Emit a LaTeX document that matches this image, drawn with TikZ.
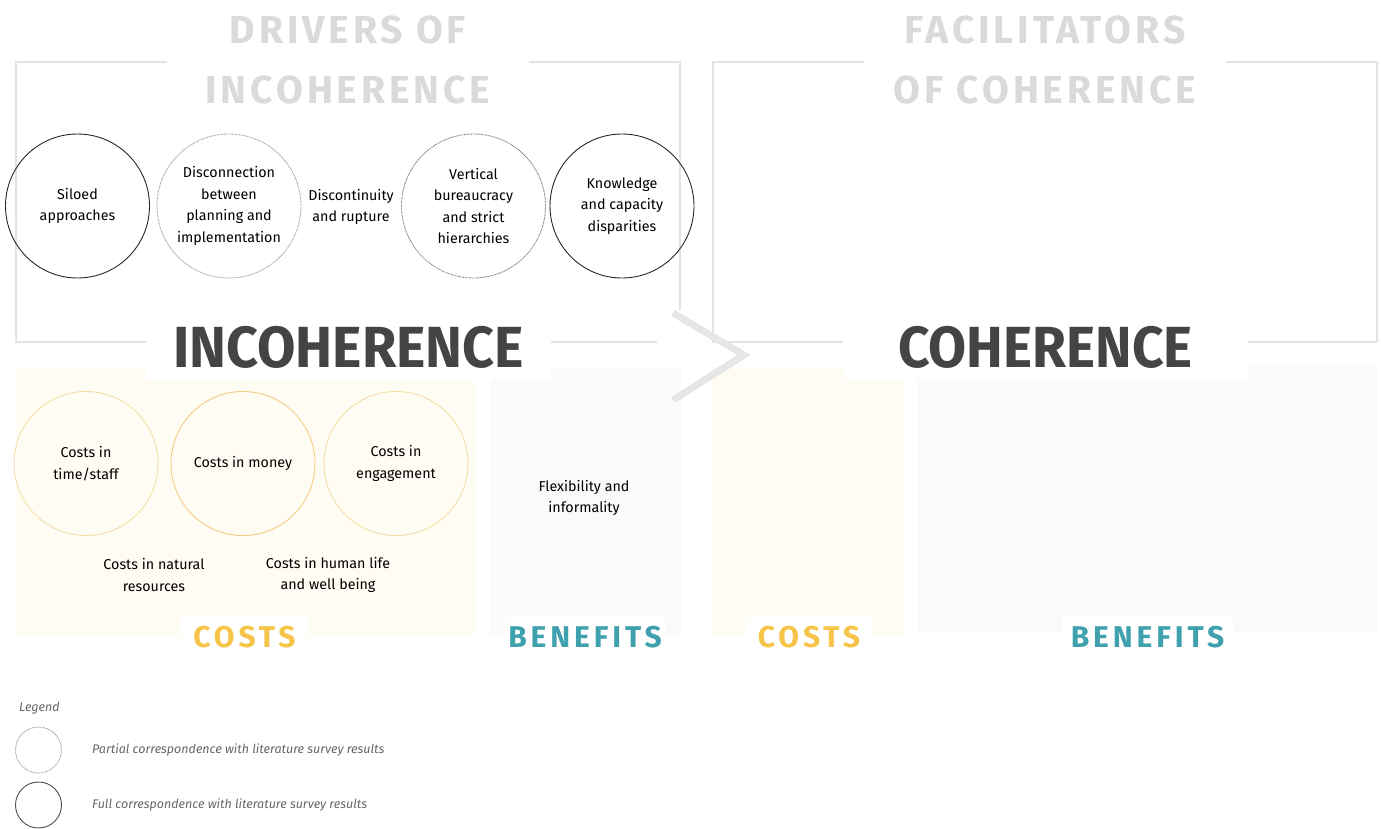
\documentclass[tikz,border=0pt]{standalone}
\usepackage{fontspec}
\setmainfont{Fira Sans}
\usetikzlibrary{positioning}
\definecolor{framegray}{HTML}{E3E3E3}
\definecolor{titlegray}{HTML}{DADADA}
\definecolor{darktext}{HTML}{444444}
\definecolor{costyellow}{HTML}{F6C448}
\definecolor{benefitteal}{HTML}{3FA1AD}
\definecolor{creamfill}{HTML}{FFFCF3}
\definecolor{bluefill}{HTML}{F8FAFC}
\definecolor{costring}{HTML}{F3DFA6}
\tikzstyle{full} = [draw=black!85, line width=0.9pt, circle, minimum size=144pt, inner sep=0pt, align=center, font=\fontsize{14.3}{21.5}\selectfont]
\tikzstyle{partial} = [full, draw=black!40, dash pattern=on 0.7pt off 0.7pt]
\tikzstyle{cost} = [full, draw=costring]
\tikzstyle{plain} = [align=center, inner sep=0pt, font=\fontsize{14.3}{21.5}\selectfont]
\tikzstyle{frame} = [draw=framegray, line width=1.6pt]
\tikzstyle{panel} = [inner sep=0pt, anchor=north west]
\tikzstyle{head} = [fill=white, inner sep=0pt, align=center, text=titlegray, font=\fontsize{39}{60}\selectfont\bfseries\addfontfeature{LetterSpace=10}]
\tikzstyle{bighead} = [fill=white, inner sep=0pt, text=darktext, font=\fontsize{58}{60}\selectfont\bfseries]
\tikzstyle{tag} = [fill=white, inner sep=0pt, minimum height=40pt, font=\fontsize{30}{30}\selectfont\bfseries\addfontfeature{LetterSpace=13}]
\tikzstyle{legtext} = [inner sep=0pt, text=black!60, font=\fontsize{12.5}{15}\selectfont\itshape]

\begin{document}
\begin{tikzpicture}[x=1pt, y=-1pt]
    \useasboundingbox (0,0) rectangle (1381,828);
    % frames
    \draw [frame] (657,342) -- (16,342) -- (16,62) -- (680,62) -- (680,310);
    \draw [frame] (713,342) rectangle (1377,62);
    % panels
    \node [panel, fill=creamfill, minimum width=459pt, minimum height=270pt, name=costsin] at (16,367) {};
    \node [panel, fill=bluefill, minimum width=190pt, minimum height=268pt, name=benefitsin] at (491,367) {};
    \node [panel, fill=creamfill, minimum width=191pt, minimum height=270pt, name=costsco] at (712,367) {};
    \node [panel, fill=bluefill, minimum width=460pt, minimum height=268pt, name=benefitsco] at (917,365) {};
    \draw [draw=framegray!90, line width=7pt] (673,313) -- (744,355) -- (673,400);
    % headings
    \node [head, minimum width=362pt, minimum height=120pt, name=drivers] at (348,60) {DRIVERS OF\\INCOHERENCE};
    \node [head, minimum width=362pt, minimum height=120pt, name=facilitators] at (1045,60) {FACILITATORS\\OF COHERENCE};
    \node [bighead, minimum width=405pt, minimum height=64pt, name=incoherence] at (348.5,347) {\scalebox{0.96}[1]{INCOHERENCE}};
    \node [bighead, minimum width=405pt, minimum height=64pt, name=coherence] at (1045.5,347) {\scalebox{0.95}[1]{COHERENCE}};
    \node [tag, text=costyellow, minimum width=127pt, name=costslabel] at (244.5,637) {COSTS};
    \node [tag, text=benefitteal, minimum width=160pt, name=benefitslabel] at (585,637) {BENEFITS};
    \node [tag, text=costyellow, minimum width=126pt, name=costslabel2] at (809,637) {COSTS};
    \node [tag, text=benefitteal, minimum width=171pt, name=benefitslabel2] at (1147.5,637) {BENEFITS};
    % drivers
    \node [full, name=siloed] at (77.5,206) {Siloed\\approaches};
    \node [partial, name=disconnect] at (229,206) {Disconnection\\between\\planning and\\implementation};
    \node [plain, name=rupture] at (351,207) {Discontinuity\\and rupture};
    \node [partial, draw=black!55, name=vertical] at (473.5,206) {Vertical\\bureaucracy\\and strict\\hierarchies};
    \node [full, name=knowledge] at (622,206) {Knowledge\\and capacity\\disparities};
    % costs
    \node [cost, name=timestaff] at (86,463.5) {Costs in\\time/staff};
    \node [cost, draw=costring!80!orange, name=money] at (243,463.5) {Costs in money};
    \node [cost, name=engagement] at (396,463.5) {Costs in\\engagement};
    \node [plain, name=natural] at (154,575) {Costs in natural\\resources};
    \node [plain, name=humanlife] at (328,575) {Costs in human life\\and well being};
    \node [plain, name=flexibility] at (584,498) {Flexibility and\\informality};
    % legend
    \node [legtext, anchor=base west, name=legend] at (19,711) {Legend};
    \node [partial, minimum size=46pt, name=legpartial] at (38.5,750) {};
    \node [full, draw=black!70, minimum size=46pt, name=legfull] at (38.5,805) {};
    \node [legtext, right=30pt of legpartial] {Partial correspondence with literature survey results};
    \node [legtext, right=30pt of legfull] {Full correspondence with literature survey results};
\end{tikzpicture}
\end{document}
